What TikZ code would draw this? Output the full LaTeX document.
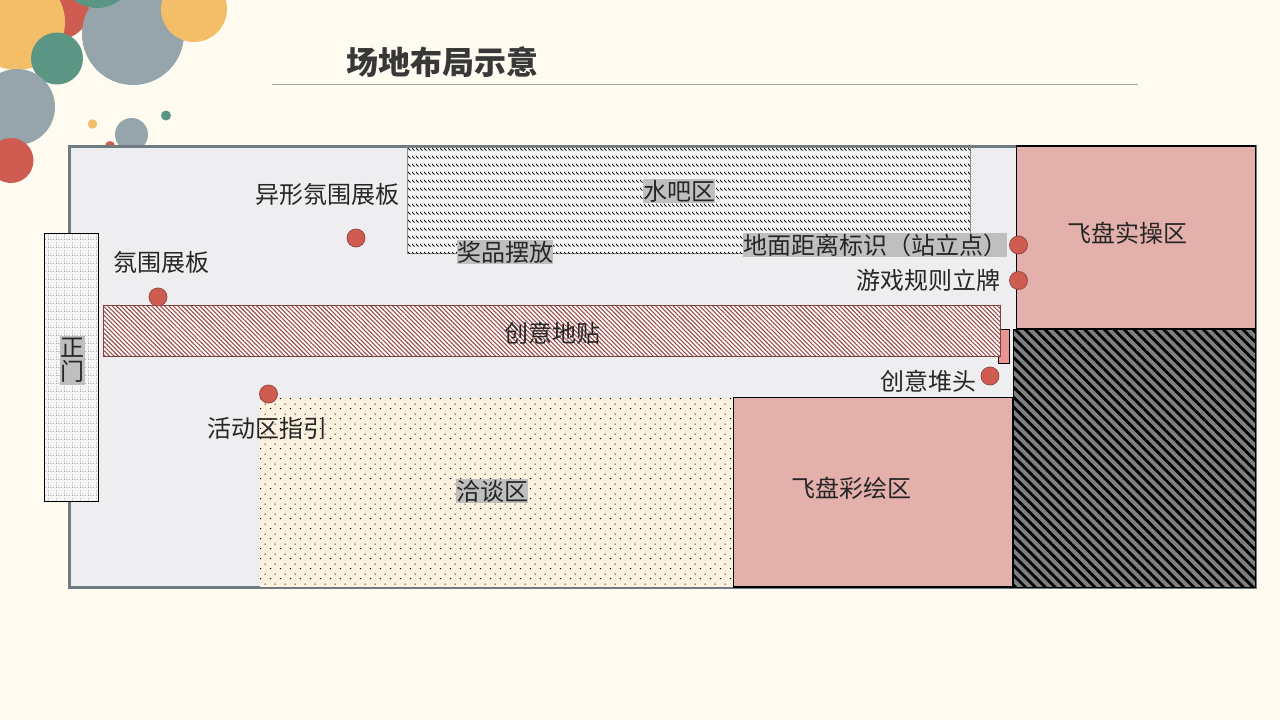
\documentclass[tikz,border=0pt]{standalone}
\usepackage{fontspec}
\setmainfont{Noto Sans CJK SC}
\usetikzlibrary{patterns, patterns.meta}
\definecolor{paper}{HTML}{FFFBF1}
\definecolor{floorgrey}{HTML}{EEEEF0}
\definecolor{wallgrey}{HTML}{6F7B80}
\definecolor{bubblered}{HTML}{CF5C50}
\definecolor{bubbleyellow}{HTML}{F3BE67}
\definecolor{bubbleteal}{HTML}{5B9684}
\definecolor{bubblegrey}{HTML}{95A5AB}
\definecolor{zonepink}{HTML}{E4B0AB}
\definecolor{stripred}{HTML}{9A4A46}
\definecolor{talkcream}{HTML}{FDF2E0}
\pgfdeclarepatternformonly{barrows}{\pgfqpoint{0pt}{0pt}}{\pgfqpoint{4pt}{8pt}}{\pgfqpoint{4pt}{8pt}}{
  \pgfsetlinewidth{0.9pt}
  \pgfpathmoveto{\pgfqpoint{0pt}{4.5pt}}
  \pgfpathlineto{\pgfqpoint{3pt}{1.5pt}}
  \pgfusepath{stroke}
}
\pgfdeclarepatternformonly{doorgrid}{\pgfqpoint{0pt}{0pt}}{\pgfqpoint{8pt}{8pt}}{\pgfqpoint{8pt}{8pt}}{
  \pgfpathrectangle{\pgfqpoint{0pt}{0pt}}{\pgfqpoint{1pt}{1pt}}
  \pgfpathrectangle{\pgfqpoint{2.7pt}{0pt}}{\pgfqpoint{1pt}{1pt}}
  \pgfpathrectangle{\pgfqpoint{5.4pt}{0pt}}{\pgfqpoint{1pt}{1pt}}
  \pgfpathrectangle{\pgfqpoint{0pt}{2.7pt}}{\pgfqpoint{1pt}{1pt}}
  \pgfpathrectangle{\pgfqpoint{0pt}{5.4pt}}{\pgfqpoint{1pt}{1pt}}
  \pgfusepath{fill}
}
\pgfdeclarepatternformonly{talkdots}{\pgfqpoint{0pt}{0pt}}{\pgfqpoint{9.6pt}{10pt}}{\pgfqpoint{9.6pt}{10pt}}{
  \pgfpathrectangle{\pgfqpoint{1pt}{1pt}}{\pgfqpoint{1.1pt}{1.1pt}}
  \pgfpathrectangle{\pgfqpoint{5.8pt}{6pt}}{\pgfqpoint{1.1pt}{1.1pt}}
  \pgfusepath{fill}
}
\tikzset{
  x=1pt, y=-1pt, % pixels of the slide, counted from its top left corner
  pinzone/.style={draw=black, line width=1.2pt, fill=zonepink}, % the two pink work zones
  pindot/.style={circle, draw=stripred, line width=0.8pt, fill=bubblered, minimum size=18pt, inner sep=0pt}, % the round markers
  lettering/.style={font=\fontsize{24}{24.5}\selectfont, text=black!85, inner sep=0pt},
  place/.style={lettering, text height=21pt, text depth=3pt},
  hilite/.style={place, fill=black!25}, % grey band behind some labels
}

\begin{document}
\begin{tikzpicture}
    \useasboundingbox (0,0) rectangle (1280,720);
    \fill[paper] (0,0) rectangle (1280,720);
    % bubbles in the corner
    \fill[bubblered] (60,10) circle (29);
    \fill[bubbleyellow] (17,22) circle (48);
    \fill[bubblegrey] (133,34) circle (51);
    \fill[bubbleteal] (97,-29) circle (37);
    \fill[bubbleteal] (57,58.5) circle (26);
    \fill[bubbleyellow] (194,9) circle (33);
    \fill[bubblegrey] (17,107) circle (38);
    \fill[bubblered] (11,160.5) circle (22.5);
    \fill[bubbleyellow] (92.5,124) circle (4.7);
    \fill[bubbleteal] (166,115.5) circle (5);
    \fill[bubblegrey] (131.5,134.5) circle (16.5);
    \fill[bubblered] (110,146) circle (5);
    % title
    \node[font=\fontsize{32}{32}\selectfont\bfseries, text=black!78, inner sep=0pt] (title) at (442.5,62) {场地布局示意};
    \draw[black!35, line width=0.8pt] (272,84.5) -- (1138,84.5);
    % room and zones
    \draw[wallgrey, line width=3pt, fill=floorgrey] (69,146) rectangle (1255,587);
    \draw[black!45, line width=0.8pt, fill=floorgrey!60!white] (407.5,147.5) rectangle (970.5,253);
    \fill[pattern=barrows, pattern color=black] (408,148) rectangle (970,253);
    \fill[black!4] (45,234) rectangle (98.5,501);
    \fill[pattern=doorgrid, pattern color=black!35] (45,234) rectangle (98.5,501);
    \draw[black, line width=1pt] (44.5,233.5) rectangle (98.5,501);
    \draw[black, line width=1pt, fill=zonepink!85!red] (998.5,329.5) rectangle (1009.5,363);
    \fill[white] (103.5,305.5) rectangle (1000,356.5);
    \fill[pattern={Lines[angle=-45, distance=3.1pt, line width=1.1pt]}, pattern color=stripred] (103.5,305.5) rectangle (1000,356.5);
    \draw[stripred!85!black, line width=1pt] (103.5,305.5) rectangle (1000,356.5);
    \fill[talkcream] (260,398) rectangle (733,587);
    \fill[pattern=talkdots, pattern color=black] (260,398) rectangle (733,587);
    \draw[pinzone] (733.5,397.5) rectangle (1012.5,587);
    \draw[pinzone] (1016.5,146) rectangle (1255.5,329);
    \fill[black!50] (1013.5,329.5) rectangle (1255.5,587.5);
    \fill[pattern={Lines[angle=-45, distance=7pt, line width=2.8pt]}, pattern color=black] (1013.5,329.5) rectangle (1255.5,587.5);
    \draw[black, line width=1.2pt] (1013.5,329.5) rectangle (1255.5,587.5);
    % markers
    \node[pindot] (dotShaped) at (356,238) {};
    \node[pindot] (dotPanel) at (158,297) {};
    \node[pindot] (dotGuide) at (268.5,394) {};
    \node[pindot] (dotStand) at (1018.5,245) {};
    \node[pindot] (dotRules) at (1018.5,280.5) {};
    \node[pindot] (dotPile) at (990,376) {};
    % labels
    \node[hilite] (water) at (679,191) {水吧区};
    \node[hilite] (prize) at (505,252) {奖品摆放};
    \node[place] (shaped) at (327,194) {异形氛围展板};
    \node[place] (panel) at (161,262) {氛围展板};
    \node[place] (strip) at (552,333) {创意地贴};
    \node[place] (guide) at (267,428) {活动区指引};
    \node[hilite] (talk) at (492,491) {洽谈区};
    \node[place] (paint) at (851,488) {飞盘彩绘区};
    \node[place] (pile) at (928,381) {创意堆头};
    \node[place] (rules) at (928,280) {游戏规则立牌};
    \node[hilite] (stand) at (875,245) {地面距离标识（站立点）};
    \node[place] (play) at (1127,233) {飞盘实操区};
    \node[lettering, fill=black!25, minimum width=25pt, minimum height=49pt, align=center] (door) at (72,360.5) {正\\门};
\end{tikzpicture}
\end{document}
